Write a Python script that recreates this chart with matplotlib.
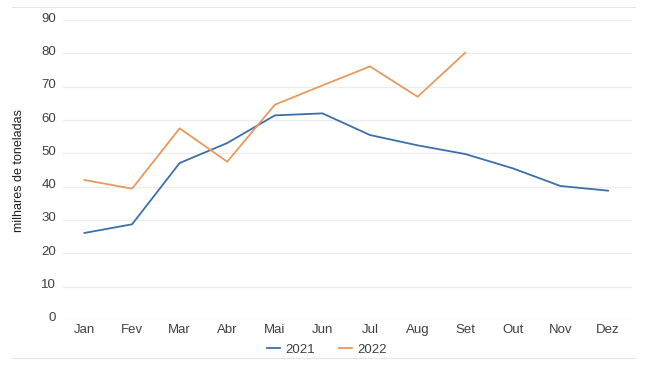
import matplotlib
matplotlib.use("Agg")
import matplotlib.pyplot as plt
from matplotlib.lines import Line2D
from matplotlib.transforms import ScaledTranslation

months = ["Jan", "Fev", "Mar", "Abr", "Mai", "Jun", "Jul", "Aug", "Set", "Out", "Nov", "Dez"]
v2021 = [26.1, 28.7, 47.1, 53.1, 61.4, 62.0, 55.5, 52.4, 49.8, 45.5, 40.2, 38.8]
v2022 = [42.0, 39.4, 57.5, 47.5, 64.6, 70.4, 76.1, 67.0, 80.2]
yticks = [0, 10, 20, 30, 40, 50, 60, 70, 80, 90]

plt.rcParams['font.family'] = ['Liberation Sans', 'DejaVu Sans']

fig = plt.figure(figsize=(6.5, 3.66), dpi=100)
ax = fig.add_axes([0.097, 0.126, 0.875, 0.819])

c21 = "#3d6fa8"
c22 = "#e69a5e"
x21 = list(range(len(v2021)))
x22 = list(range(len(v2022)))
ax.plot(x21, v2021, color=c21, lw=1.3, label="2021")
ax.plot(x22, v2022, color=c22, lw=1.3, label="2022")

ax.set_xlim(-0.45, 11.5)
ax.set_ylim(0, 90)
ax.set_yticks(yticks)
ax.set_xticks(range(len(months)))
ax.set_xticklabels(months)
ax.grid(axis='y', color='#ececec', lw=0.9)
ax.set_axisbelow(True)
for s in ax.spines.values():
    s.set_visible(False)
ax.tick_params(axis='both', length=0, labelsize=9.5, colors='#404040')
ax.tick_params(axis='x', pad=3)
ax.tick_params(axis='y', pad=5)
off = ScaledTranslation(0, 3/100, fig.dpi_scale_trans)
for lbl in ax.get_yticklabels():
    lbl.set_transform(lbl.get_transform() + off)

ax.set_ylabel("milhares de toneladas", fontsize=9, color='#202020', labelpad=12)

handles = [Line2D([0], [0], color=c21, lw=1.3), Line2D([0], [0], color=c22, lw=1.3)]
fig.legend(handles, ["2021", "2022"], loc='center', bbox_to_anchor=(0.503, 0.045),
           ncol=2, frameon=False, fontsize=9.5, handlelength=1.0, handletextpad=0.4,
           columnspacing=1.8, labelcolor='#404040')

fig.add_artist(Line2D([0.018, 0.977], [1 - 7/366, 1 - 7/366], color='#e6e6e6', lw=0.8))
fig.add_artist(Line2D([0.018, 0.977], [1 - 358/366, 1 - 358/366], color='#e6e6e6', lw=0.8))

fig.savefig("out.png", dpi=100)
